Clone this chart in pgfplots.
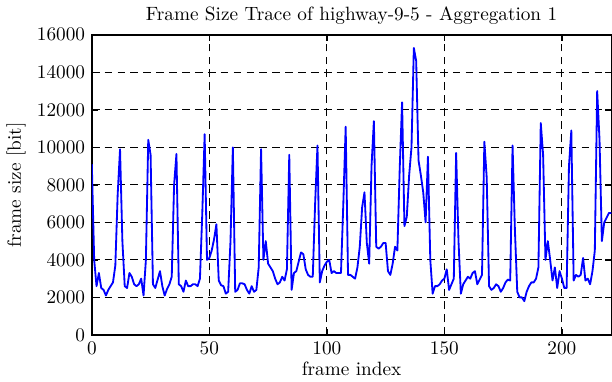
\documentclass[border=0pt]{standalone}
\usepackage{pgfplots}
\pgfplotsset{compat=1.18}
\usepackage{pgfplotstable}
\pgfplotstableread{
i v
0 9100
1 4000
2 2600
3 3300
4 2500
5 2400
6 2100
7 2400
8 2600
9 2800
10 3700
11 7500
12 9900
13 5000
14 2600
15 2500
16 3300
17 3100
18 2700
19 2600
20 2700
21 3000
22 2100
23 4000
24 10400
25 9600
26 2700
27 2500
28 2950
29 3400
30 2600
31 2100
32 2450
33 2700
34 3100
35 8000
36 9650
37 2700
38 2600
39 2300
40 2900
41 2600
42 2600
43 2700
44 2700
45 2600
46 3000
47 6500
48 10700
49 4000
50 4100
51 4500
52 5100
53 5900
54 2900
55 2650
56 2600
57 2200
58 2300
59 5000
60 10000
61 2300
62 2400
63 2750
64 2750
65 2700
66 2400
67 2200
68 2600
69 2300
70 2400
71 3600
72 9900
73 4000
74 5000
75 3800
76 3600
77 3400
78 3000
79 2700
80 2800
81 3100
82 2900
83 3500
84 9600
85 2400
86 3300
87 3400
88 3900
89 4400
90 4300
91 3500
92 3200
93 3100
94 3100
95 7000
96 10100
97 2800
98 3400
99 3700
100 3900
101 4000
102 3300
103 3400
104 3300
105 3300
106 3300
107 7000
108 11100
109 3200
110 3200
111 3100
112 3000
113 3600
114 4700
115 6800
116 7600
117 4900
118 3800
119 9000
120 11400
121 4700
122 4600
123 4700
124 4900
125 4900
126 3400
127 3200
128 3800
129 4700
130 4500
131 8900
132 12400
133 5800
134 6300
135 8500
136 10000
137 15300
138 14600
139 9300
140 8500
141 7600
142 6000
143 9500
144 4000
145 2200
146 2600
147 2600
148 2700
149 2900
150 3000
151 3500
152 2400
153 2700
154 3000
155 9700
156 5000
157 2200
158 2700
159 2900
160 3100
161 3000
162 3300
163 3400
164 2700
165 2950
166 3200
167 10300
168 8400
169 2600
170 2400
171 2500
172 2700
173 2600
174 2300
175 2500
176 2800
177 2950
178 2900
179 10100
180 5600
181 2300
182 2000
183 2000
184 1800
185 2300
186 2600
187 2800
188 2800
189 3000
190 3600
191 11300
192 9600
193 4000
194 5000
195 4000
196 2900
197 3600
198 2500
199 3400
200 3000
201 2500
202 2500
203 9000
204 10900
205 2900
206 3200
207 3100
208 3200
209 4100
210 2900
211 3000
212 2700
213 3400
214 4500
215 13000
216 10400
217 5000
218 6000
219 6250
220 6500
221 6500
}\trace
\begin{document}
\begin{tikzpicture}
\begin{axis}[
  scale only axis,
  width=270pt, height=156pt,
  xmin=0, xmax=221, ymin=0, ymax=16000,
  xtick={0,50,100,150,200},
  ytick={0,2000,4000,6000,8000,10000,12000,14000,16000},
  /pgf/number format/set thousands separator={},
  scaled y ticks=false,
  tick align=inside,
  major tick length=3.2pt,
  grid=major,
  major grid style={black, line width=0.45pt, dash pattern=on 4pt off 2.7pt},
  axis line style={black, line width=0.75pt},
  every tick/.style={black, line width=0.75pt},
  title={Frame Size Trace of highway-9-5 - Aggregation 1},
  title style={yshift=-4pt},
  xlabel={frame index},
  ylabel={frame size [bit]},
  xlabel style={yshift=3pt},
  ylabel style={yshift=-1pt},
]
\addplot[blue, line width=0.95pt, line join=round] table[x=i, y=v] {\trace};
\end{axis}
\end{tikzpicture}
\end{document}
